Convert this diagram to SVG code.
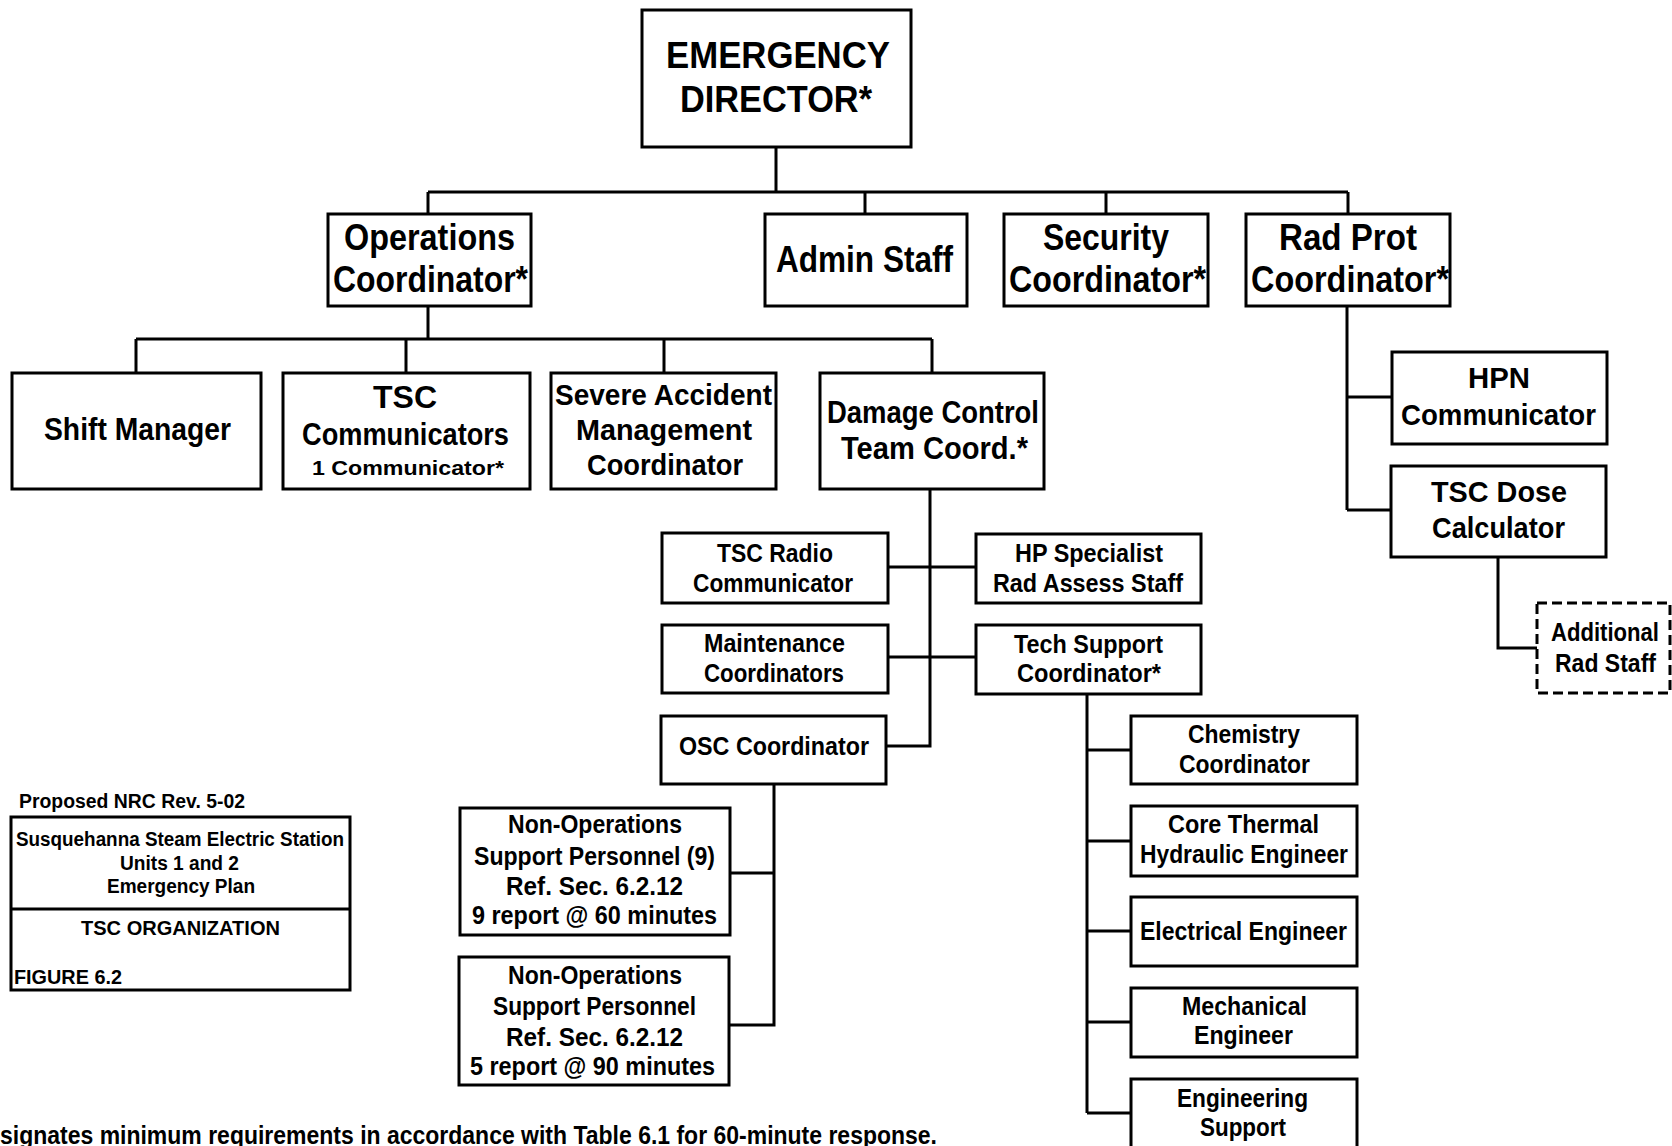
<svg xmlns="http://www.w3.org/2000/svg" width="1672" height="1146" viewBox="0 0 1672 1146">
<style>
.b{fill:#fff;stroke:#000;stroke-width:3}
.d{fill:#fff;stroke:#000;stroke-width:3;stroke-dasharray:10 5}
.c{fill:none;stroke:#000;stroke-width:3}
text{font-family:"Liberation Sans",Arial,sans-serif;font-weight:bold;fill:#000}
.f37{font-size:37px}.f36{font-size:36px}.f31{font-size:31px}.f30{font-size:30px}.f26{font-size:26px}.f25{font-size:25px}.f21{font-size:21px}.f20{font-size:20px}
</style>
<rect width="1672" height="1146" fill="#fff"/>
<g id="connectors">
<path class="c" d="M776 147V192M428 192H1348M428 192V214M865 192V214M1106 192V214M1348 192V214"/>
<path class="c" d="M428 306V339M136 339H932M136 339V373M406 339V373M664 339V373M932 339V373"/>
<path class="c" d="M1347 306V510M1347 397H1392M1347 510H1391"/>
<path class="c" d="M1498 557V648H1537"/>
<path class="c" d="M930 489V746H886M888 567H976M888 657H976"/>
<path class="c" d="M1087 694V1113M1087 750H1131M1087 841H1131M1087 931H1131M1087 1022H1131M1087 1113H1131"/>
<path class="c" d="M774 784V1025H729M774 873H730"/>
</g>
<g id="emergency-director"><rect class="b" x="642" y="10" width="269" height="137"/>
<text class="f37" x="666" y="68" textLength="224" lengthAdjust="spacingAndGlyphs">EMERGENCY</text>
<text class="f37" x="680" y="112" textLength="192" lengthAdjust="spacingAndGlyphs">DIRECTOR*</text></g>
<g id="operations-coordinator"><rect class="b" x="328" y="214" width="203" height="92"/>
<text class="f36" x="344" y="250" textLength="171" lengthAdjust="spacingAndGlyphs">Operations</text>
<text class="f36" x="333" y="292" textLength="195" lengthAdjust="spacingAndGlyphs">Coordinator*</text></g>
<g id="admin-staff"><rect class="b" x="765" y="214" width="202" height="92"/>
<text class="f36" x="776" y="272" textLength="177" lengthAdjust="spacingAndGlyphs">Admin Staff</text></g>
<g id="security-coordinator"><rect class="b" x="1004" y="214" width="204" height="92"/>
<text class="f36" x="1043" y="250" textLength="126" lengthAdjust="spacingAndGlyphs">Security</text>
<text class="f36" x="1009" y="292" textLength="197" lengthAdjust="spacingAndGlyphs">Coordinator*</text></g>
<g id="rad-prot-coordinator"><rect class="b" x="1246" y="214" width="204" height="92"/>
<text class="f36" x="1279" y="250" textLength="138" lengthAdjust="spacingAndGlyphs">Rad Prot</text>
<text class="f36" x="1251" y="292" textLength="198" lengthAdjust="spacingAndGlyphs">Coordinator*</text></g>
<g id="shift-manager"><rect class="b" x="12" y="373" width="249" height="116"/>
<text class="f31" x="44" y="440" textLength="187" lengthAdjust="spacingAndGlyphs">Shift Manager</text></g>
<g id="tsc-communicators"><rect class="b" x="283" y="373" width="247" height="116"/>
<text class="f31" x="373" y="408" textLength="64" lengthAdjust="spacingAndGlyphs">TSC</text>
<text class="f31" x="302" y="445" textLength="207" lengthAdjust="spacingAndGlyphs">Communicators</text>
<text class="f21" x="312" y="475" textLength="192" lengthAdjust="spacingAndGlyphs">1 Communicator*</text></g>
<g id="severe-accident"><rect class="b" x="551" y="373" width="225" height="116"/>
<text class="f30" x="555" y="405" textLength="217" lengthAdjust="spacingAndGlyphs">Severe Accident</text>
<text class="f30" x="576" y="440" textLength="176" lengthAdjust="spacingAndGlyphs">Management</text>
<text class="f30" x="587" y="475" textLength="156" lengthAdjust="spacingAndGlyphs">Coordinator</text></g>
<g id="damage-control"><rect class="b" x="820" y="373" width="224" height="116"/>
<text class="f31" x="827" y="423" textLength="212" lengthAdjust="spacingAndGlyphs">Damage Control</text>
<text class="f31" x="841" y="459" textLength="187" lengthAdjust="spacingAndGlyphs">Team Coord.*</text></g>
<g id="hpn-communicator"><rect class="b" x="1392" y="352" width="215" height="92"/>
<text class="f30" x="1468" y="388" textLength="62" lengthAdjust="spacingAndGlyphs">HPN</text>
<text class="f30" x="1401" y="425" textLength="195" lengthAdjust="spacingAndGlyphs">Communicator</text></g>
<g id="tsc-dose-calculator"><rect class="b" x="1391" y="466" width="215" height="91"/>
<text class="f30" x="1431" y="502" textLength="136" lengthAdjust="spacingAndGlyphs">TSC Dose</text>
<text class="f30" x="1432" y="538" textLength="133" lengthAdjust="spacingAndGlyphs">Calculator</text></g>
<g id="additional-rad-staff"><rect class="d" x="1537" y="603" width="133" height="90"/>
<text class="f25" x="1551" y="641" textLength="108" lengthAdjust="spacingAndGlyphs">Additional</text>
<text class="f25" x="1555" y="672" textLength="101" lengthAdjust="spacingAndGlyphs">Rad Staff</text></g>
<g id="tsc-radio-communicator"><rect class="b" x="662" y="533" width="226" height="70"/>
<text class="f25" x="717" y="562" textLength="116" lengthAdjust="spacingAndGlyphs">TSC Radio</text>
<text class="f25" x="693" y="592" textLength="160" lengthAdjust="spacingAndGlyphs">Communicator</text></g>
<g id="maintenance-coordinators"><rect class="b" x="662" y="625" width="226" height="68"/>
<text class="f25" x="704" y="652" textLength="141" lengthAdjust="spacingAndGlyphs">Maintenance</text>
<text class="f25" x="704" y="682" textLength="140" lengthAdjust="spacingAndGlyphs">Coordinators</text></g>
<g id="osc-coordinator"><rect class="b" x="661" y="716" width="225" height="68"/>
<text class="f25" x="679" y="755" textLength="190" lengthAdjust="spacingAndGlyphs">OSC Coordinator</text></g>
<g id="hp-specialist"><rect class="b" x="976" y="534" width="225" height="69"/>
<text class="f25" x="1015" y="562" textLength="148" lengthAdjust="spacingAndGlyphs">HP Specialist</text>
<text class="f25" x="993" y="592" textLength="190" lengthAdjust="spacingAndGlyphs">Rad Assess Staff</text></g>
<g id="tech-support-coordinator"><rect class="b" x="976" y="625" width="225" height="69"/>
<text class="f25" x="1014" y="653" textLength="149" lengthAdjust="spacingAndGlyphs">Tech Support</text>
<text class="f25" x="1017" y="682" textLength="144" lengthAdjust="spacingAndGlyphs">Coordinator*</text></g>
<g id="chemistry-coordinator"><rect class="b" x="1131" y="716" width="226" height="68"/>
<text class="f25" x="1188" y="743" textLength="112" lengthAdjust="spacingAndGlyphs">Chemistry</text>
<text class="f25" x="1179" y="773" textLength="131" lengthAdjust="spacingAndGlyphs">Coordinator</text></g>
<g id="core-thermal"><rect class="b" x="1131" y="806" width="226" height="70"/>
<text class="f25" x="1168" y="833" textLength="151" lengthAdjust="spacingAndGlyphs">Core Thermal</text>
<text class="f25" x="1140" y="863" textLength="208" lengthAdjust="spacingAndGlyphs">Hydraulic Engineer</text></g>
<g id="electrical-engineer"><rect class="b" x="1131" y="897" width="226" height="69"/>
<text class="f25" x="1140" y="940" textLength="207" lengthAdjust="spacingAndGlyphs">Electrical Engineer</text></g>
<g id="mechanical-engineer"><rect class="b" x="1131" y="988" width="226" height="69"/>
<text class="f25" x="1182" y="1015" textLength="125" lengthAdjust="spacingAndGlyphs">Mechanical</text>
<text class="f25" x="1194" y="1044" textLength="99" lengthAdjust="spacingAndGlyphs">Engineer</text></g>
<g id="engineering-support"><rect class="b" x="1131" y="1079" width="226" height="90"/>
<text class="f25" x="1177" y="1107" textLength="131" lengthAdjust="spacingAndGlyphs">Engineering</text>
<text class="f25" x="1200" y="1136" textLength="86" lengthAdjust="spacingAndGlyphs">Support</text></g>
<g id="non-ops-1"><rect class="b" x="460" y="808" width="270" height="127"/>
<text class="f26" x="508" y="833" textLength="174" lengthAdjust="spacingAndGlyphs">Non-Operations</text>
<text class="f26" x="474" y="865" textLength="241" lengthAdjust="spacingAndGlyphs">Support Personnel (9)</text>
<text class="f26" x="506" y="895" textLength="177" lengthAdjust="spacingAndGlyphs">Ref. Sec. 6.2.12</text>
<text class="f26" x="472" y="924" textLength="245" lengthAdjust="spacingAndGlyphs">9 report @ 60 minutes</text></g>
<g id="non-ops-2"><rect class="b" x="459" y="957" width="270" height="128"/>
<text class="f26" x="508" y="984" textLength="174" lengthAdjust="spacingAndGlyphs">Non-Operations</text>
<text class="f26" x="493" y="1015" textLength="203" lengthAdjust="spacingAndGlyphs">Support Personnel</text>
<text class="f26" x="506" y="1046" textLength="177" lengthAdjust="spacingAndGlyphs">Ref. Sec. 6.2.12</text>
<text class="f26" x="470" y="1075" textLength="245" lengthAdjust="spacingAndGlyphs">5 report @ 90 minutes</text></g>
<g id="title-block">
<text class="f20" x="19" y="808" textLength="226" lengthAdjust="spacingAndGlyphs">Proposed NRC Rev. 5-02</text>
<rect class="b" x="11" y="817" width="339" height="173"/>
<line class="c" x1="11" y1="909" x2="350" y2="909"/>
<text class="f20" x="16" y="846" textLength="328" lengthAdjust="spacingAndGlyphs">Susquehanna Steam Electric Station</text>
<text class="f20" x="120" y="870" textLength="119" lengthAdjust="spacingAndGlyphs">Units 1 and 2</text>
<text class="f20" x="107" y="893" textLength="148" lengthAdjust="spacingAndGlyphs">Emergency Plan</text>
<text class="f20" x="81" y="935" textLength="199" lengthAdjust="spacingAndGlyphs">TSC ORGANIZATION</text>
<text class="f20" x="14" y="984" textLength="108" lengthAdjust="spacingAndGlyphs">FIGURE 6.2</text>
</g>
<text class="f26" x="0" y="1144" textLength="937" lengthAdjust="spacingAndGlyphs">signates minimum requirements in accordance with Table 6.1 for 60-minute response.</text>
</svg>
